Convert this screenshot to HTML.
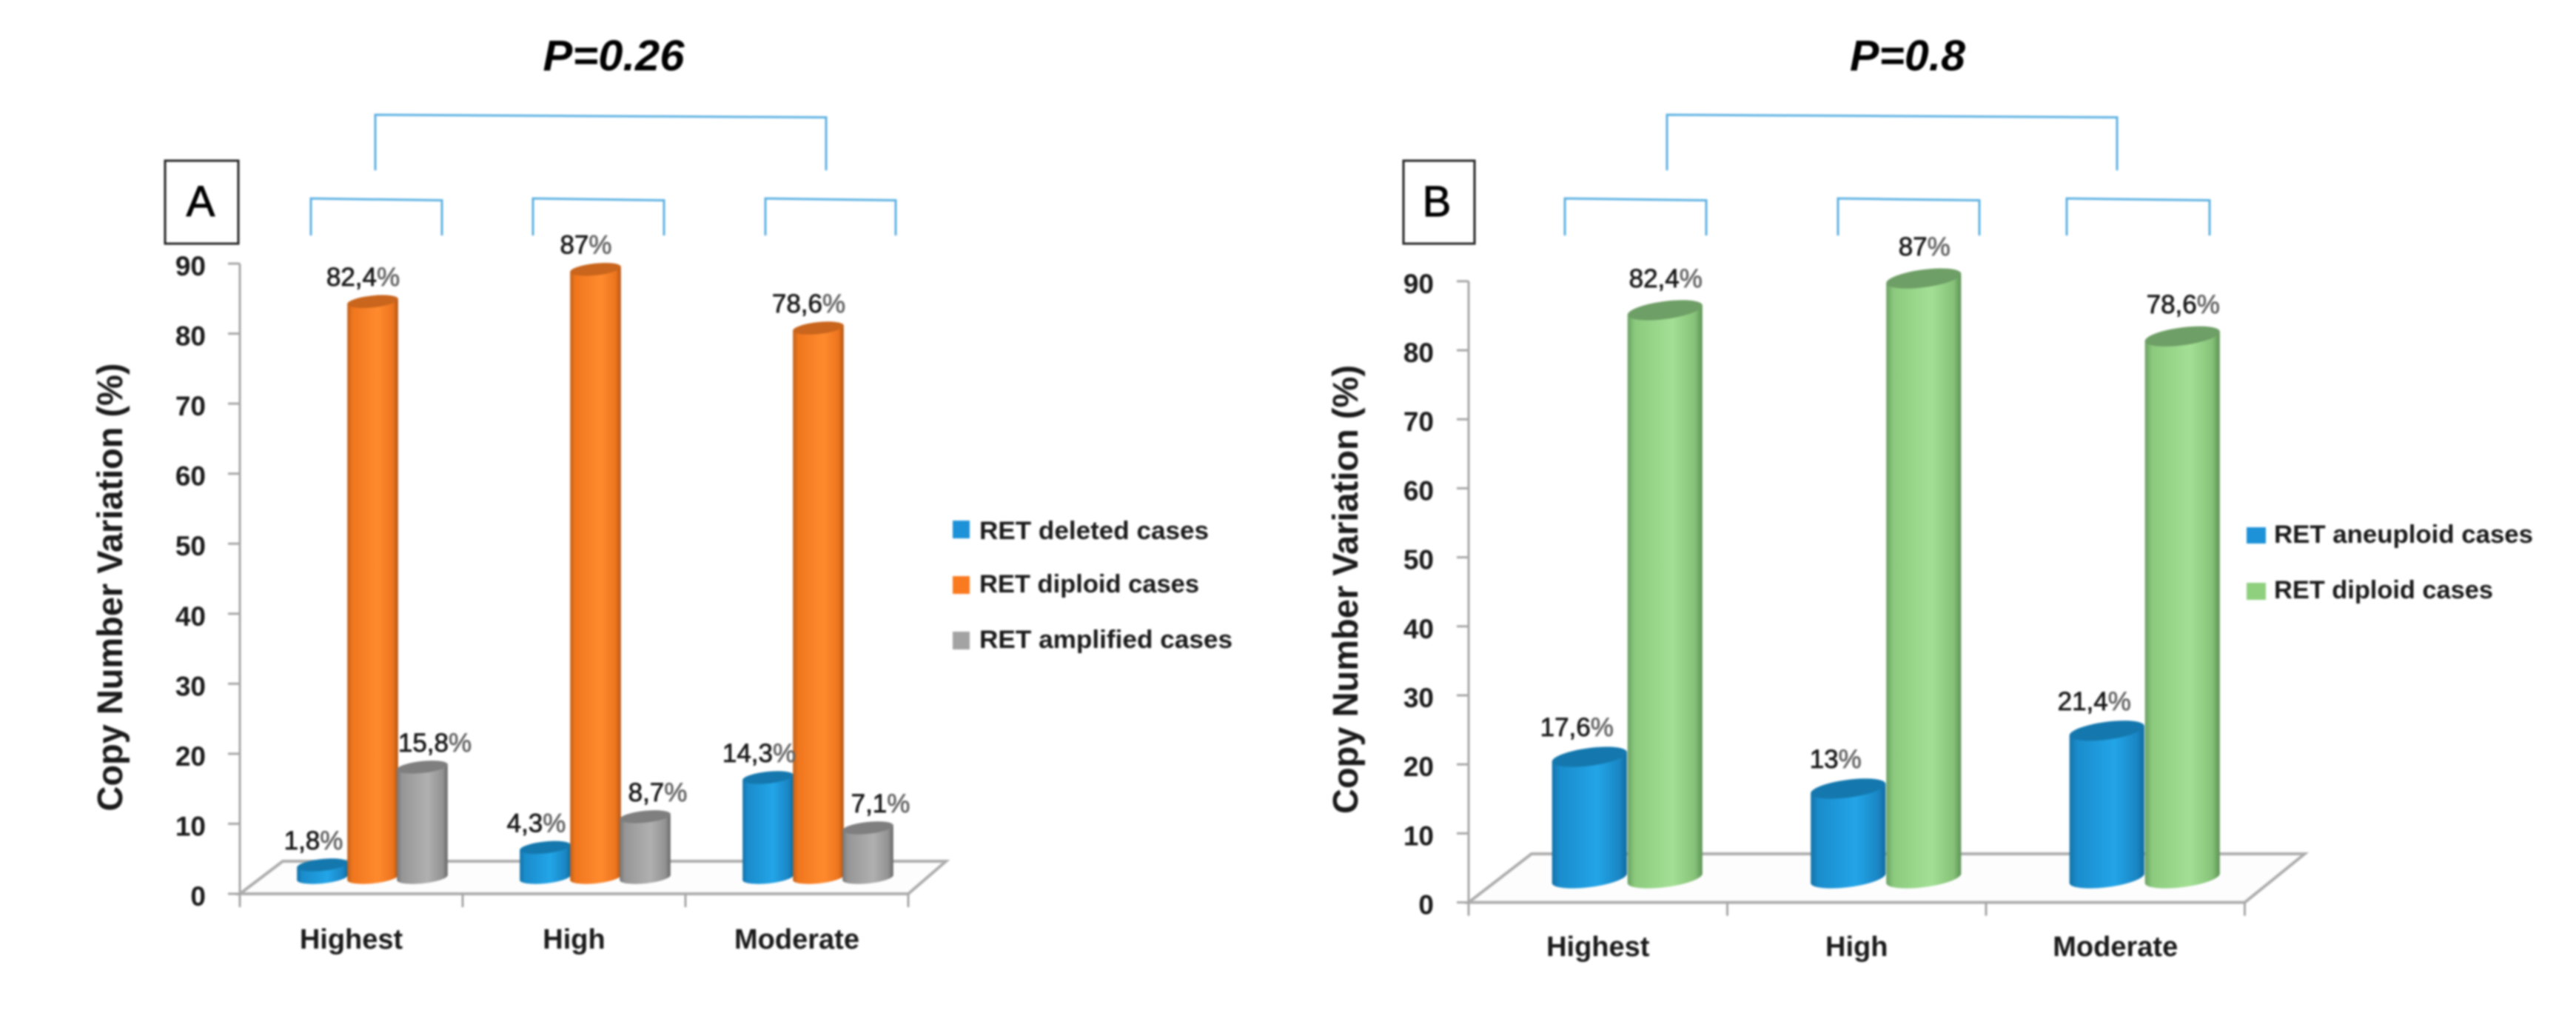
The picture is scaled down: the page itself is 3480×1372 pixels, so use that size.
<!DOCTYPE html>
<html lang="en">
<head>
<meta charset="utf-8">
<title>RET copy number variation</title>
<style>
html,body{margin:0;padding:0;background:#fff;width:3480px;height:1372px;overflow:hidden}
svg{display:block;filter:blur(1.2px)}
text{font-family:"Liberation Sans",sans-serif;fill:#1a1a1a}
.tick{font-size:37px;font-weight:bold;text-anchor:end}
.cat{font-size:38px;font-weight:bold;text-anchor:middle}
.val{font-size:35px;text-anchor:middle;stroke:#1a1a1a;stroke-width:.8px}
.ytitle{font-size:48px;font-weight:bold;text-anchor:middle}
.leg{font-size:34px;font-weight:bold}
.ptitle{font-size:58px;font-weight:bold;font-style:italic;text-anchor:middle;fill:#000}
.letter{font-size:58px;text-anchor:middle;fill:#000;stroke:#000;stroke-width:1px}
.br{fill:none;stroke:#5db1e2;stroke-width:3}
.box{fill:#fff;stroke:#222;stroke-width:3}
</style>
</head>
<body>
<svg id="figure" xmlns="http://www.w3.org/2000/svg" width="3480" height="1372" viewBox="0 0 3480 1372">
  <defs>
    <linearGradient id="grad-blue"><stop offset="0" stop-color="#1472a8"/><stop offset=".1" stop-color="#1a8ccc"/><stop offset=".6" stop-color="#22a5e8"/><stop offset=".9" stop-color="#1a86c4"/><stop offset="1" stop-color="#106a9e"/></linearGradient>
    <linearGradient id="grad-orange"><stop offset="0" stop-color="#c0601a"/><stop offset=".1" stop-color="#f0761e"/><stop offset=".6" stop-color="#ff8a2e"/><stop offset=".9" stop-color="#ec741e"/><stop offset="1" stop-color="#b05412"/></linearGradient>
    <linearGradient id="grad-gray"><stop offset="0" stop-color="#757575"/><stop offset=".1" stop-color="#969696"/><stop offset=".6" stop-color="#b0b0b0"/><stop offset=".9" stop-color="#929292"/><stop offset="1" stop-color="#686868"/></linearGradient>
    <linearGradient id="grad-green"><stop offset="0" stop-color="#6ba263"/><stop offset=".1" stop-color="#8ccb7e"/><stop offset=".6" stop-color="#a3e095"/><stop offset=".9" stop-color="#86c278"/><stop offset="1" stop-color="#5c9256"/></linearGradient>
  </defs>
  <rect width="3480" height="1372" fill="#fff"/>

  <!-- Panel A static furniture -->
  <text class="ptitle" x="829" y="95" textLength="191" lengthAdjust="spacingAndGlyphs">P=0.26</text>
  <path class="br" d="M507 230V155L1116 158.5V230"/>
  <path class="br" d="M420 318V268L597 270.5V318"/>
  <path class="br" d="M720 318V268L897 270.5V318"/>
  <path class="br" d="M1034 318V268L1210 270.5V318"/>
  <rect class="box" x="223" y="217" width="99" height="112"/>
  <text class="letter" x="271" y="292">A</text>
  <text class="ytitle" transform="translate(165 793) rotate(-90)" textLength="605" lengthAdjust="spacingAndGlyphs">Copy Number Variation (%)</text>

  <g>
    <rect x="1287" y="703" width="23" height="24" fill="#1d92d8"/>
    <text class="leg" x="1323" y="728" textLength="310" lengthAdjust="spacingAndGlyphs">RET deleted cases</text>
    <rect x="1287" y="778" width="23" height="24" fill="#fa7a20"/>
    <text class="leg" x="1323" y="800" textLength="297" lengthAdjust="spacingAndGlyphs">RET diploid cases</text>
    <rect x="1287" y="853" width="23" height="24" fill="#a3a3a3"/>
    <text class="leg" x="1323" y="875" textLength="342" lengthAdjust="spacingAndGlyphs">RET amplified cases</text>
  </g>

  <!-- Panel B static furniture -->
  <text class="ptitle" x="2577" y="95" textLength="156" lengthAdjust="spacingAndGlyphs">P=0.8</text>
  <path class="br" d="M2252 230V155L2860 158.5V230"/>
  <path class="br" d="M2114 318V268L2305 270.5V318"/>
  <path class="br" d="M2483 318V268L2674 270.5V318"/>
  <path class="br" d="M2792 318V268L2985 270.5V318"/>
  <rect class="box" x="1896" y="217" width="96" height="112"/>
  <text class="letter" x="1941" y="292">B</text>
  <text class="ytitle" transform="translate(1834 796) rotate(-90)" textLength="606" lengthAdjust="spacingAndGlyphs">Copy Number Variation (%)</text>

  <g>
    <rect x="3035" y="712" width="26" height="22" fill="#1d92d8"/>
    <text class="leg" x="3072" y="733" textLength="350" lengthAdjust="spacingAndGlyphs">RET aneuploid cases</text>
    <rect x="3035" y="787" width="26" height="23" fill="#8fd07f"/>
    <text class="leg" x="3072" y="808" textLength="296" lengthAdjust="spacingAndGlyphs">RET diploid cases</text>
  </g>

  <g id="chart-a"></g>
  <g id="chart-b"></g>
</svg>

<script>
// Chart data
const tickLabels = [0, 10, 20, 30, 40, 50, 60, 70, 80, 90];
const categories = ["Highest", "High", "Moderate"];
const deletedValues = [1.8, 4.3, 14.3];
const diploidValuesA = [82.4, 87, 78.6];
const amplifiedValues = [15.8, 8.7, 7.1];
const aneuploidValues = [17.6, 13, 21.4];
const diploidValuesB = [82.4, 87, 78.6];

const NS = "http://www.w3.org/2000/svg";

function make(parent, tag) {
  const el = document.createElementNS(NS, tag);
  parent.appendChild(el);
  return el;
}

function drawChart(root, cfg) {
  const axisY = v => cfg.y0 - v * cfg.axisUnit;
  const barY = v => cfg.barBase - v * cfg.barUnit;
  const bandX = i => cfg.x0 + (i + 0.5) * cfg.step;
  const xEnd = cfg.x0 + categories.length * cfg.step;

  // floor
  const floor = make(root, "path");
  
  
  floor.setAttribute("fill", "#fdfdfd");
  floor.setAttribute("stroke", "#adadad");
  floor.setAttribute("stroke-width", "4");
  floor.setAttribute("d", `M${cfg.x0} ${cfg.y0}L${cfg.x0 + cfg.floorDx} ${cfg.floorBackY}H${xEnd + cfg.floorRightDx}L${xEnd} ${cfg.y0}Z`);

  // y axis
  const yLine = make(root, "line");
  
  
  yLine.setAttribute("x1", cfg.x0);
  yLine.setAttribute("x2", cfg.x0);
  yLine.setAttribute("y1", axisY(tickLabels[tickLabels.length - 1]));
  yLine.setAttribute("y2", cfg.y0 + 18);
  yLine.setAttribute("stroke", "#a6a6a6");
  yLine.setAttribute("stroke-width", "3");

  tickLabels.forEach(t => {
    const mark = make(root, "line");
    
    
    mark.setAttribute("x1", cfg.x0 - 16);
    mark.setAttribute("x2", cfg.x0);
    mark.setAttribute("y1", axisY(t));
    mark.setAttribute("y2", axisY(t));
    mark.setAttribute("stroke", "#a6a6a6");
    mark.setAttribute("stroke-width", "3");
    const label = make(root, "text");
    
    
    label.setAttribute("class", "tick");
    label.setAttribute("x", cfg.tickRight);
    label.setAttribute("y", axisY(t) + 16);
    label.textContent = t;
  });

  // x ticks and category labels
  for (let i = 1; i <= categories.length; i++) {
    const mark = make(root, "line");
    
    
    const x = cfg.x0 + i * cfg.step;
    mark.setAttribute("x1", x);
    mark.setAttribute("x2", x);
    mark.setAttribute("y1", cfg.y0);
    mark.setAttribute("y2", cfg.y0 + 18);
    mark.setAttribute("stroke", "#a6a6a6");
    mark.setAttribute("stroke-width", "3");
  }
  categories.forEach((c, i) => {
    const label = make(root, "text");
    
    
    label.setAttribute("class", "cat");
    label.setAttribute("x", bandX(i));
    label.setAttribute("y", cfg.catBaseline);
    label.textContent = c;
  });

  // cylinders
  const rx = cfg.rx, ry = cfg.ry, deg = -cfg.tilt;
  const rad = cfg.tilt * Math.PI / 180;
  const dx = rx * Math.cos(rad), dy = rx * Math.sin(rad);
  cfg.series.forEach(s => {
    s.values.forEach((v, i) => {
      const cx = bandX(i) + s.offset;
      const top = barY(v);
      const base = cfg.barBase;
      const body = make(root, "path");
      
      
      body.setAttribute("fill", "url(#" + s.grad + ")");
      body.setAttribute("d", `M${cx - dx} ${top + dy}L${cx - dx} ${base + dy}A${rx} ${ry} ${deg} 0 0 ${cx + dx} ${base - dy}L${cx + dx} ${top - dy}Z`);
      const cap = make(root, "ellipse");
      
      
      cap.setAttribute("cx", cx);
      cap.setAttribute("cy", top);
      cap.setAttribute("rx", rx);
      cap.setAttribute("ry", ry);
      cap.setAttribute("fill", s.capColor);
      cap.setAttribute("transform", `rotate(${deg} ${cx} ${top})`);
    });
  });

  // value labels, on top of every bar
  cfg.series.forEach(s => {
    s.values.forEach((v, i) => {
      const label = make(root, "text");
      
      
      label.setAttribute("class", "val");
      label.setAttribute("x", bandX(i) + s.offset + s.labelDx);
      label.setAttribute("y", barY(v) - s.labelDy);
      label.textContent = String(v).replace(".", ",");
      const pct = make(label, "tspan");
      pct.setAttribute("fill", "#666");
      pct.setAttribute("stroke", "#666");
      pct.textContent = "%";
    });
  });
}

drawChart(document.getElementById("chart-a"), {
  x0: 324, step: 301, y0: 1207, axisUnit: 9.456,
  barBase: 1185, barUnit: 9.44, rx: 34.5, ry: 8, tilt: 6,
  floorDx: 58, floorRightDx: 51, floorBackY: 1163,
  tickRight: 278, catBaseline: 1281,
  series: [
    { key: "deleted", values: deletedValues, grad: "grad-blue", capColor: "#1478ae", offset: -39, labelDx: -12, labelDy: 21 },
    { key: "diploid", values: diploidValuesA, grad: "grad-orange", capColor: "#c9651c", offset: 29, labelDx: -13, labelDy: 21 },
    { key: "amplified", values: amplifiedValues, grad: "grad-gray", capColor: "#7f7f7f", offset: 96, labelDx: 17, labelDy: 21 }
  ]
});

drawChart(document.getElementById("chart-b"), {
  x0: 1984, step: 349.5, y0: 1218.6, axisUnit: 9.32,
  barBase: 1186, barUnit: 9.31, rx: 51, ry: 12, tilt: 7.5,
  floorDx: 85, floorRightDx: 81, floorBackY: 1153,
  tickRight: 1937, catBaseline: 1291,
  series: [
    { key: "aneuploid", values: aneuploidValues, grad: "grad-blue", capColor: "#1478ae", offset: -11.5, labelDx: -17, labelDy: 28 },
    { key: "diploid", values: diploidValuesB, grad: "grad-green", capColor: "#6e9f66", offset: 90.5, labelDx: 1, labelDy: 31 }
  ]
});
</script>
</body>
</html>
